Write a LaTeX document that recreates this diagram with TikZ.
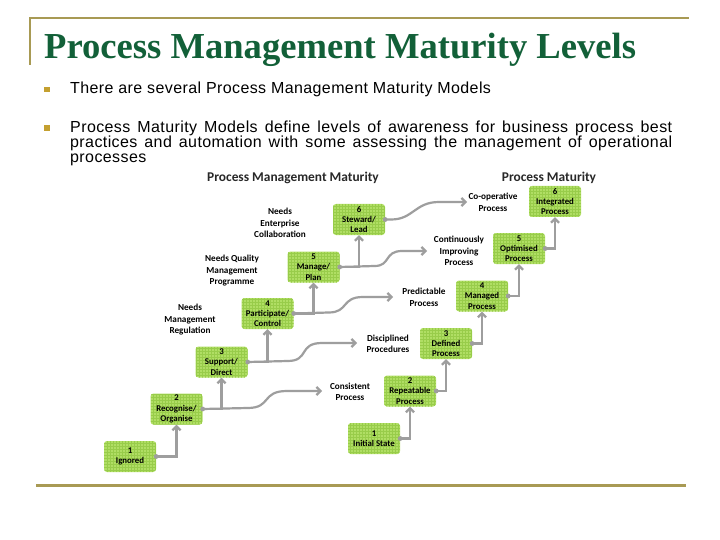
\documentclass[tikz,border=0pt]{standalone}
\usepackage{fontspec}
\setmainfont{Liberation Sans}
\newfontfamily\ttlfont{Liberation Serif}
\newfontfamily\calfont{Carlito}
\newfontfamily\bodyfont[LetterSpace=2.5]{Liberation Sans}
\usetikzlibrary{arrows.meta,calc}
\definecolor{framegold}{RGB}{168,154,84}
\definecolor{titlegreen}{RGB}{18,96,56}
\definecolor{bulletgold}{RGB}{196,160,48}
\definecolor{boxgreen}{RGB}{176,222,100}
\definecolor{gridgreen}{RGB}{152,204,74}
\definecolor{conngray}{RGB}{158,158,158}
\definecolor{darktext}{RGB}{40,40,40}
\begin{document}
\begin{tikzpicture}[x=1pt,y=-1pt,
  lvl/.style={rounded corners=3pt, fill=boxgreen, minimum width=52pt, minimum height=31pt,
    inner sep=1pt, align=center, text=black,
    font=\calfont\bfseries\fontsize{8.8}{10.3}\selectfont,
    path picture={\draw[gridgreen,line width=0.3pt] (path picture bounding box.south west) grid[step=3pt] (path picture bounding box.north east);}},
  lbl/.style={align=center, inner sep=0pt, text=black, font=\calfont\bfseries\fontsize{9.2}{11.5}\selectfont},
  subttl/.style={inner sep=0pt, text=darktext, font=\calfont\bfseries\fontsize{13.4}{15}\selectfont},
  link/.style={draw=conngray, line width=2.2pt, -{Straight Barb[length=4pt,width=8pt]}},
  dotend/.style={fill=conngray},
  bulletsq/.style={fill=bulletgold, minimum size=5.5pt, inner sep=0pt},
  bodytext/.style={anchor=base west, inner sep=0pt, text=black, font=\bodyfont\fontsize{16}{15}\selectfont}
]
\fill[white] (0,0) rectangle (720,540);
\useasboundingbox (0,0) rectangle (720,540);

% frame lines
\draw[framegold, line width=2pt] (30,65) -- (30,18) -- (689,18);
\draw[framegold, line width=2.6pt] (36,485.5) -- (686,485.5);

% title
\node[anchor=base west, inner sep=0pt, text=titlegreen,
  font=\ttlfont\bfseries\fontsize{36.6}{40}\selectfont] (title) at (44,58.5) {Process Management Maturity Levels};

% bullets
\node[bulletsq] (b1) at (47,89.3) {};
\node[bulletsq] (b2) at (47,128) {};
\node[bodytext] (t1) at (70,93.3) {There are several Process Management Maturity Models};
\node[bodytext] (p1) at (70,132.5) {\makebox[602pt][s]{Process Maturity Models define levels of awareness for business process best}};
\node[bodytext] (p2) at (70,147.5) {\makebox[602pt][s]{practices and automation with some assessing the management of operational}};
\node[bodytext] (p3) at (70,162.5) {processes};

% diagram titles
\node[subttl] (st1) at (293,178) {Process Management Maturity};
\node[subttl] (st2) at (549,178) {Process Maturity};

% left staircase
\node[lvl] (L1) at (130,456.5) {1\\Ignored};
\node[lvl] (L2) at (176.5,409) {2\\Recognise/\\Organise};
\node[lvl] (L3) at (221.5,362) {3\\Support/\\Direct};
\node[lvl] (L4) at (267.5,313.5) {4\\Participate/\\Control};
\node[lvl] (L5) at (313.5,267) {5\\Manage/\\Plan};
\node[lvl] (L6) at (359,219.5) {6\\Steward/\\Lead};

\node[lbl] (nr) at (190,320) {Needs\\Management\\Regulation};
\node[lbl] (nq) at (232,271) {Needs Quality\\Management\\Programme};
\node[lbl] (ne) at (280,223) {Needs\\Enterprise\\Collaboration};

% right staircase
\node[lvl] (R1) at (374,438.5) {1\\Initial State};
\node[lvl] (R2) at (410,391) {2\\Repeatable\\Process};
\node[lvl] (R3) at (446,343.5) {3\\Defined\\Process};
\node[lvl] (R4) at (482,296) {4\\Managed\\Process};
\node[lvl] (R5) at (519,248.5) {5\\Optimised\\Process};
\node[lvl] (R6) at (555,201.5) {6\\Integrated\\Process};

% middle labels
\node[lbl] (cons) at (350,392) {Consistent\\Process};
\node[lbl] (disc) at (388,344) {Disciplined\\Procedures};
\node[lbl] (pred) at (424,297.5) {Predictable\\Process};
\node[lbl] (cont) at (459,251) {Continuously\\Improving\\Process};
\node[lbl] (coop) at (493,202.5) {Co-operative\\Process};

\coordinate (k2) at (322,391);
\coordinate (k3) at (357,343);
\coordinate (k4) at (393,297);
\coordinate (k5) at (427,251);
\coordinate (k6) at (467,202);

% curved links
\draw[link] (L2.east) -- ++(45,-1) .. controls +(24,0) and +(-26,0) .. ($(k2)+(-35,0)$) -- (k2);
\draw[link] (L3.east) -- ++(40,-1) .. controls +(22,0) and +(-24,0) .. ($(k3)+(-35,0)$) -- (k3);
\draw[link] (L4.east) -- ++(35,-1) .. controls +(20,0) and +(-22,0) .. ($(k4)+(-30,0)$) -- (k4);
\draw[link] (L5.east) -- ++(35,-1) .. controls +(16,0) and +(-18,0) .. ($(k5)+(-25,0)$) -- (k5);
\draw[link] (L6.east) -- ++(6,0) .. controls +(22,0) and +(-24,0) .. ($(k6)+(-28,0)$) -- (k6);

% elbow links left
\draw[link] (L1.east) -| (L2.south);
\draw[link] (L2.east) -| (L3.south);
\draw[link] (L3.east) -| (L4.south);
\draw[link] (L4.east) -| (L5.south);
\draw[link] (L5.east) -| (L6.south);
% elbow links right
\draw[link] (R1.east) -| (R2.south);
\draw[link] (R2.east) -| (R3.south);
\draw[link] (R3.east) -| (R4.south);
\draw[link] (R4.east) -| (R5.south);
\draw[link] (R5.east) -| (R6.south);

% dots
\foreach \n in {L1,L2,L3,L4,L5,L6,R1,R2,R3,R4,R5}
  \fill[dotend] (\n.east) circle (2.4pt);
\end{tikzpicture}
\end{document}
